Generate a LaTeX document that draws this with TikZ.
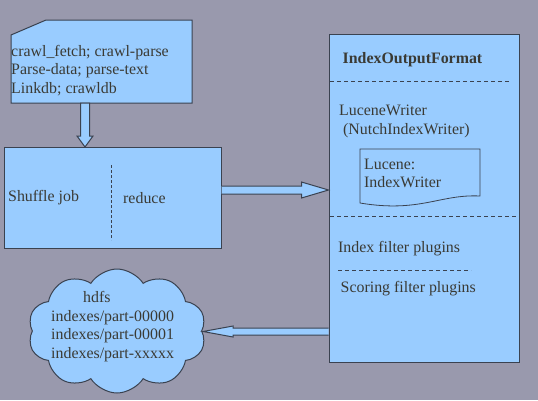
\documentclass[tikz,border=0pt]{standalone}
\usepackage{fontspec}
\setmainfont{Liberation Serif}
\usetikzlibrary{shapes.symbols,calc}
\definecolor{bg}{RGB}{153,153,173}
\definecolor{pale}{RGB}{153,204,255}
\definecolor{ink}{RGB}{58,58,52}
\definecolor{edge}{RGB}{58,66,80}

\begin{document}
\begin{tikzpicture}[x=1pt,y=-1pt,
		box/.style={draw=edge,fill=pale,line width=1pt},
		txt/.style={text=ink,font=\fontsize{15.9}{18.5}\selectfont,inner sep=0pt,anchor=west,align=left},
		sep/.style={draw=edge,line width=0.9pt,dash pattern=on 4pt off 3pt}]
		\fill[bg](0,0) rectangle (538,400);
		\useasboundingbox (0,0) rectangle (538,400);
		% jobs card
		\draw[box](11,35)--(46,20)--(192,20)--(192,103)--(11,103)--cycle;
		\node[txt] (jobs) at (11,70.5) {crawl\_fetch; crawl-parse\\Parse-data; parse-text\\Linkdb; crawldb};
		% shuffle box
		\node[box,minimum width=217,minimum height=101,inner sep=0pt] (shuffle) at (112.5,197.5) {};
		\draw[edge,line width=0.9pt,dash pattern=on 2.5pt off 2.5pt](111,165)--(111,240);
		\node[txt] (shuf) at (8,198) {Shuffle job};
		\node[txt] (red) at (123,198) {reduce};
		% output format box
		\node[box,minimum width=190,minimum height=328,inner sep=0pt] (iof) at (424,198) {};
		\node[txt,font=\fontsize{15.9}{18.5}\selectfont\bfseries] (title) at (342.5,60) {IndexOutputFormat};
		\draw[sep](330,81.5)--(511,81.5);
		\node[txt] (writer) at (339,121.5) {LuceneWriter\\\ (NutchIndexWriter)};
		\draw[box,line width=0.8pt](360,149)--(480,149)--(480,196) .. controls (440,194) and (420,213) .. (360,203)--cycle;
		\node[txt] (lucene) at (364,173.5) {Lucene:\\IndexWriter};
		\draw[sep](330,216.5)--(518,216.5);
		\node[txt] (index) at (338,249) {Index filter plugins};
		\draw[sep](338,270.5)--(471,270.5);
		\node[txt] (scoring) at (340.5,288.5) {Scoring filter plugins};
		% hdfs cloud
		\node[cloud,box,cloud puffs=10,cloud puff arc=115,minimum width=178,minimum height=124,inner sep=0pt] (hdfs) at (117,331) {};
		\node[txt] (parts) at (51,326.5) {\hspace*{32pt}hdfs\\indexes/part-00000\\indexes/part-00001\\indexes/part-xxxxx};
		% block arrows
		\coordinate (dtop) at (85,103);
		\coordinate (dtip) at (85,147);
		\draw[box]($(dtop)+(-4.5,0)$)--($(dtip)+(-4.5,-11)$)--($(dtip)+(-8,-11)$)--(dtip)--($(dtip)+(8,-11)$)--($(dtip)+(4.5,-11)$)--($(dtop)+(4.5,0)$)--cycle;
		\coordinate (rtail) at (shuffle.east|-0,190);
		\coordinate (rtip) at (iof.west|-0,190);
		\draw[box]($(rtail)+(0,-4)$)--($(rtip)+(-27,-4)$)--($(rtip)+(-27,-8)$)--(rtip)--($(rtip)+(-27,8)$)--($(rtip)+(-27,4)$)--($(rtail)+(0,4)$);
		\coordinate (ltail) at (iof.west|-0,331.5);
		\coordinate (ltip) at (203,331.5);
		\draw[box]($(ltail)+(0,-3.5)$)--($(ltip)+(30,-3.5)$)--($(ltip)+(30,-5.5)$)--(ltip)--($(ltip)+(30,5.5)$)--($(ltip)+(30,3.5)$)--($(ltail)+(0,3.5)$);
	\end{tikzpicture}
\end{document}
